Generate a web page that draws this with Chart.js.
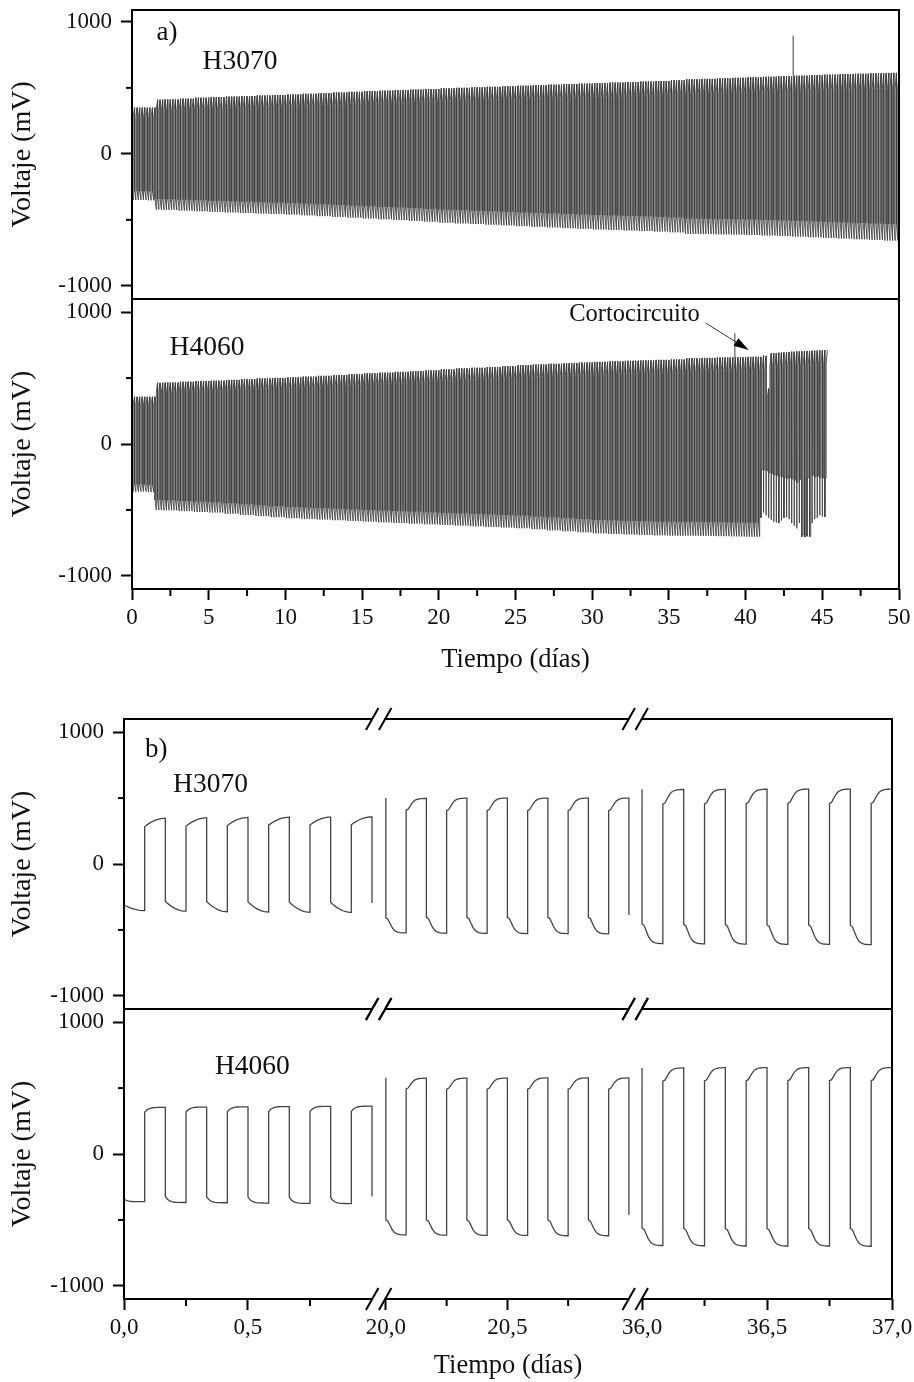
<!DOCTYPE html>
<html>
<head>
<meta charset="utf-8">
<script src="https://cdn.jsdelivr.net/npm/chart.js@4.4.0/dist/chart.umd.min.js"></script>
<style>
  body { margin: 0; background: #fff; }
  #wrap { position: relative; width: 914px; height: 1382px; }
  #wrap canvas { position: absolute; left: 0; top: 0; }
</style>
</head>
<body>
<div id="wrap">
  <canvas id="a1" width="914" height="1382"></canvas>
  <canvas id="a2" width="914" height="1382"></canvas>
  <canvas id="b1" width="914" height="1382"></canvas>
  <canvas id="b2" width="914" height="1382"></canvas>
</div>
<script>
// ---------- data ----------

// one charge/discharge cycle = 4 h; every cycle starts with the low (negative) half
const cyclePeriod = 1 / 6;
// level right after each switch, as a share of the level reached at the end of the half cycle
const jump3070 = 0.81;
const jump4060 = 0.85;

// panel a): envelope of the cycling, sampled per day (value holds until next sample)
const aDays = [0, 1, 1.5, 2, 3, 4, 5, 6, 7, 8, 9, 10, 11, 12, 13, 14, 15, 16, 17, 18, 19, 20,
  21, 22, 23, 24, 25, 26, 27, 28, 29, 30, 31, 32, 33, 34, 35, 36, 37, 38, 39, 40,
  41, 42, 43, 44, 45, 46, 47, 48, 49, 50];
const a3070High = [350, 350, 410, 412, 418, 425, 430, 434, 438, 442, 446, 450, 455, 460, 465, 470, 475, 479, 483, 487, 491, 497,
  500, 504, 508, 512, 516, 520, 524, 528, 532, 536, 540, 544, 548, 552, 558, 565, 568, 572, 576, 580,
  584, 588, 592, 596, 600, 604, 607, 610, 613, 616];
const a3070Low = [-350, -352, -422, -425, -430, -435, -440, -444, -448, -452, -456, -460, -466, -472, -478, -484, -490, -496, -502, -508, -514, -522,
  -527, -532, -537, -542, -548, -553, -558, -563, -568, -573, -577, -581, -585, -589, -595, -606, -608, -610, -612, -615,
  -619, -623, -627, -632, -637, -642, -647, -652, -657, -661];
const a3070End = 50;
const a3070SpikeDay = [43.1];
const a3070SpikeTop = [895];

const a4060High = [358, 358, 464, 466, 472, 478, 480, 486, 492, 497, 501, 505, 511, 517, 523, 530, 536, 541, 547, 552, 558, 566,
  573, 578, 584, 590, 598, 603, 608, 613, 618, 623, 627, 631, 634, 638, 641, 650, 653, 656, 658, 661];
const a4060Low = [-361, -365, -500, -503, -509, -515, -520, -529, -538, -547, -555, -563, -568, -573, -578, -584, -589, -594, -599, -604, -609, -614,
  -619, -624, -629, -634, -639, -647, -655, -662, -670, -678, -682, -686, -690, -693, -695, -695, -697, -699, -701, -703];
// after the short circuit (from day 41) every cycle is read one by one
const a4060ShortDay = 41;
const a4060PostHigh = [672, 668, 420, 688, 690, 690, 692, 694, 695, 696, 698, 700, 700, 702, 703, 704, 705, 706, 706, 708, 708, 709, 710, 711, 712, 712];
const a4060PostLow = [-200, -195, -205, -215, -225, -235, -240, -245, -250, -255, -262, -258, -265, -275, -290, -270, -690, -705, -260, -700, -240, -250, -245, -255, -258, -258];
const a4060PostDip = [-560, -520, -540, -560, -575, -590, -595, -600, -580, -560, -555, -570, -600, -620, -640, -600, -705, -705, -700, -705, -600, -570, -560, -540, -550, -553];
const a4060SpikeDay = [39.3];
const a4060SpikeTop = [840];

const aTickDays = [0, 5, 10, 15, 20, 25, 30, 35, 40, 45, 50];
const aTickLabels = ['0', '5', '10', '15', '20', '25', '30', '35', '40', '45', '50'];
const aMinorDays = [2.5, 7.5, 12.5, 17.5, 22.5, 27.5, 32.5, 37.5, 42.5, 47.5];

// panel b): three one-day windows, six cycles each
const bSegStart = [0, 20, 36];
const b3070LowA = [[-310, -283, -285, -287, -288, -290], [-409, -405, -405, -405, -405, -405], [-455, -458, -460, -462, -463, -465]];
const b3070LowB = [[-354, -358, -362, -364, -366, -367], [-523, -525, -527, -528, -528, -530], [-604, -606, -608, -610, -610, -612]];
const b3070HighA = [[283, 288, 292, 295, 296, 298], [409, 405, 405, 405, 405, 405], [454, 456, 458, 460, 460, 460]];
const b3070HighB = [[347, 350, 353, 355, 356, 357], [497, 499, 500, 500, 500, 500], [565, 566, 567, 568, 568, 568]];
const b3070EdgeIn = [null, 500, 568];
const b3070EdgeOut = [-295, -386, null];

const b4060LowA = [[-342, -322, -325, -327, -328, -330], [-500, -500, -500, -500, -500, -500], [-562, -565, -565, -565, -565, -565]];
const b4060LowB = [[-362, -368, -370, -372, -375, -376], [-614, -616, -618, -618, -620, -620], [-694, -696, -698, -698, -698, -700]];
const b4060HighA = [[316, 318, 320, 322, 322, 323], [494, 492, 492, 492, 492, 492], [552, 555, 556, 556, 556, 556]];
const b4060HighB = [[354, 356, 358, 360, 362, 363], [575, 575, 576, 577, 577, 577], [653, 655, 656, 656, 656, 656]];
const b4060EdgeIn = [null, 578, 653];
const b4060EdgeOut = [-322, -462, null];

// how each half cycle moves from its start level to its end level (11 samples)
const shapeGradual = [0, 0.19, 0.36, 0.51, 0.64, 0.75, 0.84, 0.91, 0.96, 0.99, 1];
const shapeQuick = [0, 0.45, 0.7, 0.84, 0.92, 0.96, 0.98, 0.99, 1, 1, 1];
const shapeNotched = [0, 0.08, 0.35, 0.62, 0.8, 0.9, 0.95, 0.98, 0.99, 1, 1];
const b3070Shapes = [shapeGradual, shapeNotched, shapeNotched];
const b4060Shapes = [shapeQuick, shapeNotched, shapeNotched];

const bTickDays = [0, 0.5, 20, 20.5, 36, 36.5, 37];
const bTickLabels = ['0,0', '0,5', '20,0', '20,5', '36,0', '36,5', '37,0'];
const bMinorDays = [0.25, 0.75, 20.25, 20.75, 36.25, 36.75];

const yTicks = [-1000, 0, 1000];
const yTickLabels = ['-1000', '0', '1000'];
const yMinor = [-500, 500];

// ---------- broken axis for b) ----------
const bSegU0 = [0, 1.056, 2.089];
const bSegU1 = [1.0, 2.036, 3.097];
const bAxisMax = 3.097;
function bx(t) {
  for (let s = 0; s < bSegStart.length; s++) {
    if (t >= bSegStart[s] - 1e-9 && t <= bSegStart[s] + 1 + 1e-9) {
      return bSegU0[s] + (t - bSegStart[s]) * (bSegU1[s] - bSegU0[s]);
    }
  }
  return NaN;
}
const bBreaks = [(bSegU1[0] + bSegU0[1]) / 2, (bSegU1[1] + bSegU0[2]) / 2];

// ---------- build point lists ----------
function envAt(vals, t) {
  let i = 0;
  while (i + 1 < vals.length && aDays[i + 1] <= t + 1e-9) i++;
  return vals[i];
}

function aCycles(high, low, jump, tEnd) {
  const pts = [];
  for (let c = 0; c * cyclePeriod < tEnd - 1e-9; c++) {
    const t0 = c * cyclePeriod, th = t0 + cyclePeriod / 2;
    const hi = envAt(high, t0), lo = envAt(low, t0);
    pts.push({x: t0, y: lo * jump}, {x: th, y: lo}, {x: th, y: hi * jump}, {x: t0 + cyclePeriod, y: hi});
  }
  return pts;
}

function a4060Points() {
  const pts = aCycles(a4060High, a4060Low, jump4060, a4060ShortDay);
  a4060PostHigh.forEach((hi, k) => {
    const t0 = a4060ShortDay + k * cyclePeriod, th = t0 + cyclePeriod / 2;
    const lo = a4060PostLow[k];
    pts.push({x: t0, y: a4060PostDip[k]}, {x: t0 + 0.012, y: lo}, {x: th, y: lo},
      {x: th, y: hi * jump4060}, {x: t0 + cyclePeriod, y: hi});
  });
  return pts;
}

function spikePoints(days, tops, high) {
  return days.map((d, i) => [{x: d, y: envAt(high, d)}, {x: d, y: tops[i]}]);
}

function bSegment(s, lowA, lowB, highA, highB, shapes, edgeIn, edgeOut) {
  const pts = [];
  const t0 = bSegStart[s], half = cyclePeriod / 2, shape = shapes[s];
  if (edgeIn[s] !== null) pts.push({x: bx(t0), y: edgeIn[s]});
  for (let c = 0; c < lowA[s].length; c++) {
    const tl = t0 + c * cyclePeriod;
    shape.forEach((f, k) => {
      pts.push({x: bx(tl + half * k / (shape.length - 1)), y: lowA[s][c] + (lowB[s][c] - lowA[s][c]) * f});
    });
    shape.forEach((f, k) => {
      const t = Math.min(tl + half + half * k / (shape.length - 1), t0 + 1);
      pts.push({x: bx(t), y: highA[s][c] + (highB[s][c] - highA[s][c]) * f});
    });
  }
  if (edgeOut[s] !== null) pts.push({x: bx(t0 + 1), y: edgeOut[s]});
  return pts;
}

// ---------- chart helpers ----------
const serif = "'Liberation Serif', 'Times New Roman', Times, serif";
const ink = '#111';

function lineSet(pts, color, width) {
  return {data: pts, parsing: false, borderColor: color, borderWidth: width, pointRadius: 0,
    fill: false, tension: 0, spanGaps: false};
}

function yAxis(width, max) {
  return {
    type: 'linear', position: 'left', min: -1100, max: max,
    afterFit: s => { s.width = width; s.paddingTop = 0; s.paddingBottom = 0; },
    afterBuildTicks: s => { s.ticks = yTicks.map(v => ({value: v})); },
    ticks: {autoSkip: false, padding: 9, color: ink, font: {family: serif, size: 23},
      callback: (v, i) => yTickLabels[i]},
    grid: {drawOnChartArea: false, tickLength: 11, tickWidth: 2, tickColor: '#000'},
    border: {display: false},
    title: {display: true, text: 'Voltaje (mV)', color: ink, font: {family: serif, size: 28},
      padding: {top: 6, bottom: 0}}
  };
}

function xAxis(max, shown, tickVals, tickLabels, height) {
  const ax = {type: 'linear', position: 'bottom', min: 0, max: max, display: shown};
  if (!shown) return ax;
  return Object.assign(ax, {
    afterFit: s => { s.height = height; s.paddingLeft = 0; s.paddingRight = 0; },
    afterBuildTicks: s => { s.ticks = tickVals.map(v => ({value: v})); },
    ticks: {autoSkip: false, maxRotation: 0, padding: 4, color: ink, font: {family: serif, size: 23},
      callback: (v, i) => tickLabels[i]},
    grid: {drawOnChartArea: false, tickLength: 11, tickWidth: 2, tickColor: '#000'},
    border: {display: false},
    title: {display: true, text: 'Tiempo (días)', color: ink, font: {family: serif, size: 26.5},
      padding: {top: 0, bottom: 0}}
  });
}

const framePlugin = {
  id: 'frame',
  afterDraw(chart, args, opts) {
    const {ctx, chartArea: a, scales} = chart;
    ctx.save();
    ctx.strokeStyle = '#000';
    ctx.lineWidth = 2;
    const seg = (x1, y1, x2, y2) => { ctx.beginPath(); ctx.moveTo(x1, y1); ctx.lineTo(x2, y2); ctx.stroke(); };
    yMinor.forEach(v => { const y = scales.y.getPixelForValue(v); seg(a.left - 6, y, a.left, y); });
    (opts.xMinor || []).forEach(v => { const x = scales.x.getPixelForValue(v); seg(x, a.bottom, x, a.bottom + 7); });
    ctx.strokeRect(a.left, a.top, a.right - a.left, a.bottom - a.top);
    (opts.breaks || []).forEach(u => {
      const c = scales.x.getPixelForValue(u);
      [a.top, a.bottom].forEach(y => {
        ctx.fillStyle = '#fff';
        ctx.fillRect(c - 6, y - 2, 11.5, 4);
        seg(c - 13, y + 11, c - 0.5, y - 11);
        seg(c, y + 11, c + 12.5, y - 11);
      });
    });
    ctx.fillStyle = ink;
    ctx.textBaseline = 'middle';
    ctx.textAlign = 'left';
    (opts.notes || []).forEach(n => {
      ctx.font = n.size + 'px ' + serif;
      ctx.fillText(n.text, scales.x.getPixelForValue(n.x), scales.y.getPixelForValue(n.y));
    });
    if (opts.arrow) {
      const r = opts.arrow;
      const x1 = scales.x.getPixelForValue(r.x1), y1 = scales.y.getPixelForValue(r.y1);
      const x2 = scales.x.getPixelForValue(r.x2), y2 = scales.y.getPixelForValue(r.y2);
      const ang = Math.atan2(y2 - y1, x2 - x1), len = 15, w = 4.5;
      const bxp = x2 - len * Math.cos(ang), byp = y2 - len * Math.sin(ang);
      ctx.lineWidth = 1;
      ctx.strokeStyle = '#333';
      seg(x1, y1, bxp, byp);
      ctx.fillStyle = '#000';
      ctx.beginPath();
      ctx.moveTo(x2, y2);
      ctx.lineTo(bxp + w * Math.sin(ang), byp - w * Math.cos(ang));
      ctx.lineTo(bxp - w * Math.sin(ang), byp + w * Math.cos(ang));
      ctx.closePath();
      ctx.fill();
    }
    ctx.restore();
  }
};

function makeChart(id, datasets, pad, x, y, frame) {
  return new Chart(document.getElementById(id), {
    type: 'line',
    data: {datasets: datasets},
    options: {
      responsive: false, animation: false, devicePixelRatio: 1,
      layout: {autoPadding: false, padding: pad},
      plugins: {legend: {display: false}, tooltip: {enabled: false}, frame: frame},
      scales: {x: x, y: y}
    },
    plugins: [framePlugin]
  });
}

// ---------- panel a) ----------
const aColor = '#3c3c3c';
makeChart('a1',
  [lineSet(aCycles(a3070High, a3070Low, jump3070, a3070End), aColor, 0.85)]
    .concat(spikePoints(a3070SpikeDay, a3070SpikeTop, a3070High).map(p => lineSet(p, aColor, 1))),
  {left: 0, top: 10, right: 15, bottom: 1382 - 299},
  xAxis(50, false), yAxis(132, 1090),
  {notes: [{x: 1.6, y: 916, text: 'a)', size: 27}, {x: 4.6, y: 696, text: 'H3070', size: 27.5}]});

makeChart('a2',
  [lineSet(a4060Points(), aColor, 0.85)]
    .concat(spikePoints(a4060SpikeDay, a4060SpikeTop, a4060High).map(p => lineSet(p, aColor, 1))),
  {left: 0, top: 299, right: 15, bottom: 1382 - 589 - 87},
  xAxis(50, true, aTickDays, aTickLabels, 87), yAxis(132, 1100),
  {xMinor: aMinorDays,
   notes: [{x: 2.45, y: 728, text: 'H4060', size: 27.5}, {x: 28.5, y: 979, text: 'Cortocircuito', size: 24.5}],
   arrow: {x1: 37.4, y1: 918, x2: 40.2, y2: 713}});

// ---------- panel b) ----------
const bColor = '#444';
const b3070Sets = bSegStart.map((d, s) => lineSet(
  bSegment(s, b3070LowA, b3070LowB, b3070HighA, b3070HighB, b3070Shapes, b3070EdgeIn, b3070EdgeOut), bColor, 1.3));
const b4060Sets = bSegStart.map((d, s) => lineSet(
  bSegment(s, b4060LowA, b4060LowB, b4060HighA, b4060HighB, b4060Shapes, b4060EdgeIn, b4060EdgeOut), bColor, 1.3));

makeChart('b1', b3070Sets,
  {left: 0, top: 719, right: 22, bottom: 1382 - 1009},
  xAxis(bAxisMax, false), yAxis(124, 1100),
  {breaks: bBreaks, notes: [{x: 0.085, y: 865, text: 'b)', size: 27}, {x: 0.198, y: 599, text: 'H3070', size: 27.5}]});

makeChart('b2', b4060Sets,
  {left: 0, top: 1009, right: 22, bottom: 0},
  xAxis(bAxisMax, true, bTickDays.map(bx), bTickLabels, 83), yAxis(124, 1100),
  {breaks: bBreaks, xMinor: bMinorDays.map(bx), notes: [{x: 0.367, y: 660, text: 'H4060', size: 27.5}]});
</script>
</body>
</html>
